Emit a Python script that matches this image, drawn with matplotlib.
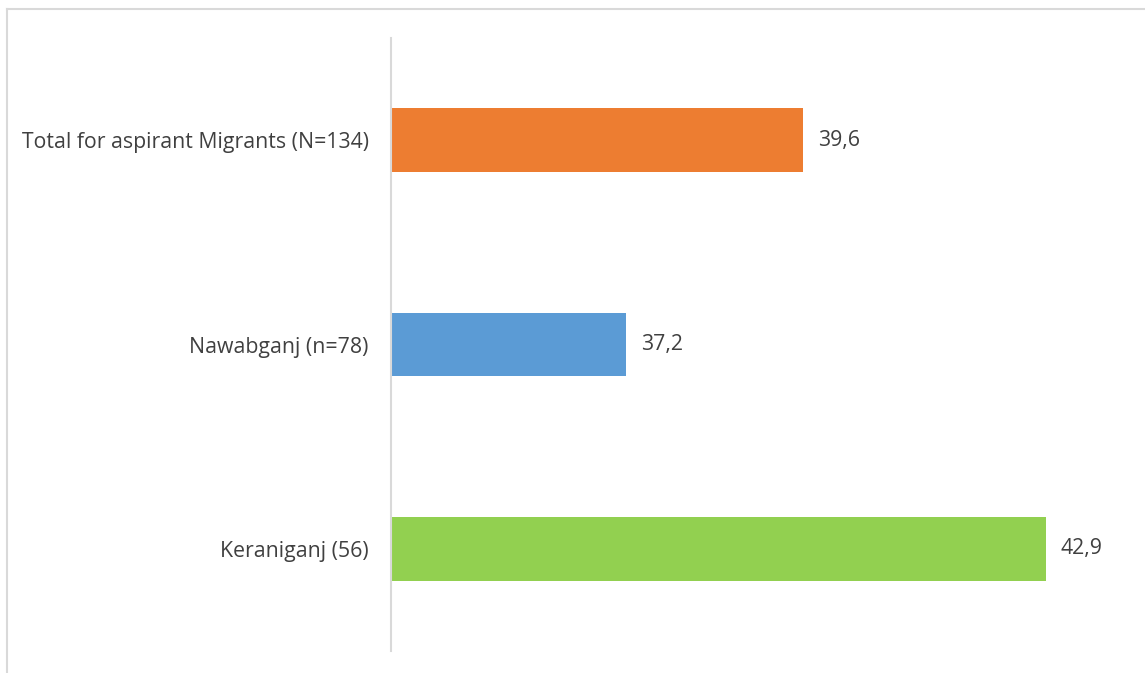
import matplotlib.pyplot as plt
from matplotlib.lines import Line2D

categories = ["Total for aspirant Migrants (N=134)", "Nawabganj (n=78)", "Keraniganj (56)"]
values = [39.6, 37.2, 42.9]
colors = ["#ED7D31", "#5B9BD5", "#92D050"]

plt.rcParams["font.family"] = ["Open Sans", "DejaVu Sans"]

fig = plt.figure(figsize=(11.45, 6.73), dpi=100)
ax = fig.add_axes([391 / 1145, 22 / 673, 738 / 1145, 613 / 673])

pos = list(range(len(categories)))
ax.barh(pos, values, height=0.31, color=colors)
ax.set_xlim(34, 44.03)
ax.set_ylim(2.5, -0.5)

for p, v in zip(pos, values):
    ax.text(v + 0.2, p, f"{v:.1f}".replace(".", ","), va="center", ha="left",
            fontsize=15.3, color="#404040")

ax.set_yticks(pos)
ax.set_yticklabels(categories, fontsize=15.3, color="#404040")
ax.tick_params(axis="y", length=0, pad=16)
ax.set_xticks([])
for side in ["top", "right", "bottom"]:
    ax.spines[side].set_visible(False)
ax.spines["left"].set_color("#D9D9D9")
ax.spines["left"].set_linewidth(1.5)

# outer chart frame (left and top edges)
fig.add_artist(Line2D([7 / 1145, 7 / 1145], [0, 1 - 9 / 673], transform=fig.transFigure,
                      color="#D9D9D9", lw=1.5))
fig.add_artist(Line2D([7 / 1145, 1], [1 - 9 / 673, 1 - 9 / 673], transform=fig.transFigure,
                      color="#D9D9D9", lw=1.5))

fig.savefig("out.png", dpi=100, facecolor="white")
